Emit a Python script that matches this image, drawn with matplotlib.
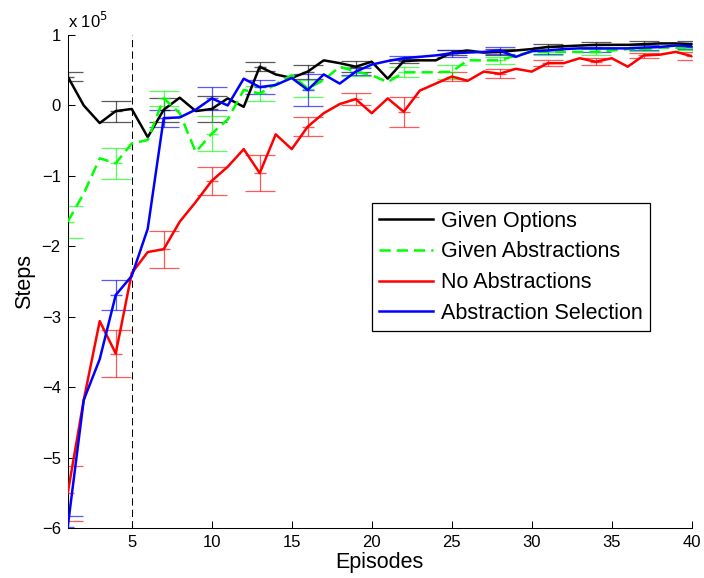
import numpy as np
import matplotlib
matplotlib.use("Agg")
from matplotlib import pyplot as plt

plt.rcParams['font.family'] = ['Liberation Sans', 'DejaVu Sans']

# episode numbers and mean steps (x 1e5)
episodes = np.arange(1, 41)

given_options = [0.41, 0.0, -0.25, -0.08, -0.05, -0.45, -0.06, 0.11, -0.08, -0.05,
                 0.1, -0.02, 0.55, 0.44, 0.39, 0.48, 0.64, 0.6, 0.55, 0.62,
                 0.38, 0.63, 0.64, 0.64, 0.75, 0.78, 0.75, 0.76, 0.78, 0.8,
                 0.83, 0.84, 0.85, 0.86, 0.86, 0.86, 0.87, 0.88, 0.88, 0.87]

given_abstr = [-1.65, -1.25, -0.75, -0.82, -0.54, -0.49, 0.1, -0.11, -0.66, -0.4,
               -0.2, 0.22, 0.17, 0.3, 0.43, 0.24, 0.36, 0.55, 0.48, 0.43,
               0.33, 0.47, 0.47, 0.47, 0.48, 0.64, 0.64, 0.64, 0.71, 0.76,
               0.76, 0.76, 0.76, 0.76, 0.78, 0.8, 0.8, 0.82, 0.82, 0.81]

no_abstr = [-5.5, -4.18, -3.06, -3.52, -2.38, -2.08, -2.04, -1.65, -1.37, -1.07,
            -0.87, -0.62, -0.96, -0.41, -0.62, -0.30, -0.11, 0.02, 0.09, -0.11,
            0.1, -0.09, 0.21, 0.31, 0.41, 0.35, 0.48, 0.45, 0.52, 0.48,
            0.6, 0.6, 0.67, 0.62, 0.67, 0.55, 0.71, 0.72, 0.76, 0.7]

abstr_select = [-5.98, -4.18, -3.6, -2.69, -2.42, -1.75, -0.18, -0.17, -0.06, 0.1,
                0.0, 0.38, 0.26, 0.29, 0.39, 0.22, 0.44, 0.31, 0.48, 0.58,
                0.63, 0.67, 0.69, 0.71, 0.74, 0.75, 0.76, 0.78, 0.69, 0.77,
                0.78, 0.8, 0.81, 0.81, 0.81, 0.81, 0.82, 0.83, 0.85, 0.84]

# error bars every 3rd episode (1, 4, 7, ... 40)
err_idx = np.arange(0, 40, 3)
err_options = [0.06, 0.15, 0.17, 0.19, 0.06, 0.1, 0.08, 0.03, 0.04, 0.04, 0.04, 0.04, 0.04, 0.04]
err_abstr = [0.23, 0.22, 0.11, 0.25, 0.11, 0.12, 0.06, 0.07, 0.1, 0.05, 0.04, 0.04, 0.03, 0.03]
err_none = [0.39, 0.34, 0.26, 0.2, 0.26, 0.13, 0.09, 0.21, 0.06, 0.065, 0.04, 0.05, 0.04, 0.06]
err_select = [0.15, 0.21, 0.12, 0.16, 0.1, 0.23, 0.05, 0.03, 0.05, 0.05, 0.05, 0.05, 0.04, 0.04]

series = [
    ('Given Options', given_options, err_options, 'k', '-'),
    ('Given Abstractions', given_abstr, err_abstr, '#00ff00', (0, (4.5, 2.4))),
    ('No Abstractions', no_abstr, err_none, 'r', '-'),
    ('Abstraction Selection', abstr_select, err_select, 'b', '-'),
]

fig = plt.figure(figsize=(7.04, 5.78), dpi=100)
ax = fig.add_axes([0.0962, 0.0860, 0.8864, 0.8535])

ax.axvline(5, color='k', lw=0.75, ls=(0, (7, 4)), zorder=1)

for name, vals, errs, col, ls in series:
    vals = np.array(vals)
    ax.errorbar(episodes[err_idx], vals[err_idx], yerr=errs, fmt='_', ms=9,
                color=col, ecolor=col, elinewidth=0.9, capsize=11, capthick=0.9,
                alpha=0.65, zorder=2)
    ax.plot(episodes, vals, color=col, ls=ls, lw=1.8, label=name, zorder=3)

ax.set_xlim(1, 40)
ax.set_ylim(-6, 1)
ax.set_xticks([5, 10, 15, 20, 25, 30, 35, 40])
ax.set_yticks(np.arange(-6, 2))
ax.tick_params(direction='in', length=5, labelsize=12, width=0.75, pad=5)
for s in ['top', 'right']:
    ax.spines[s].set_visible(False)
for s in ['left', 'bottom']:
    ax.spines[s].set_linewidth(0.75)

ax.set_xlabel('Episodes', fontsize=15.5, labelpad=1)
ax.set_ylabel('Steps', fontsize=15.5, labelpad=5)
fig.text(0.097, 0.952, 'x 10$^5$', fontsize=12, ha='left', va='baseline')

leg = ax.legend(loc='upper left', bbox_to_anchor=(0.487, 0.659), borderaxespad=0,
                fancybox=False, edgecolor='k', framealpha=1, fontsize=15.5,
                handlelength=2.5, handletextpad=0.35, labelspacing=0.45,
                borderpad=0.35)
leg.get_frame().set_linewidth(0.9)

fig.savefig('out.png', dpi=100)
